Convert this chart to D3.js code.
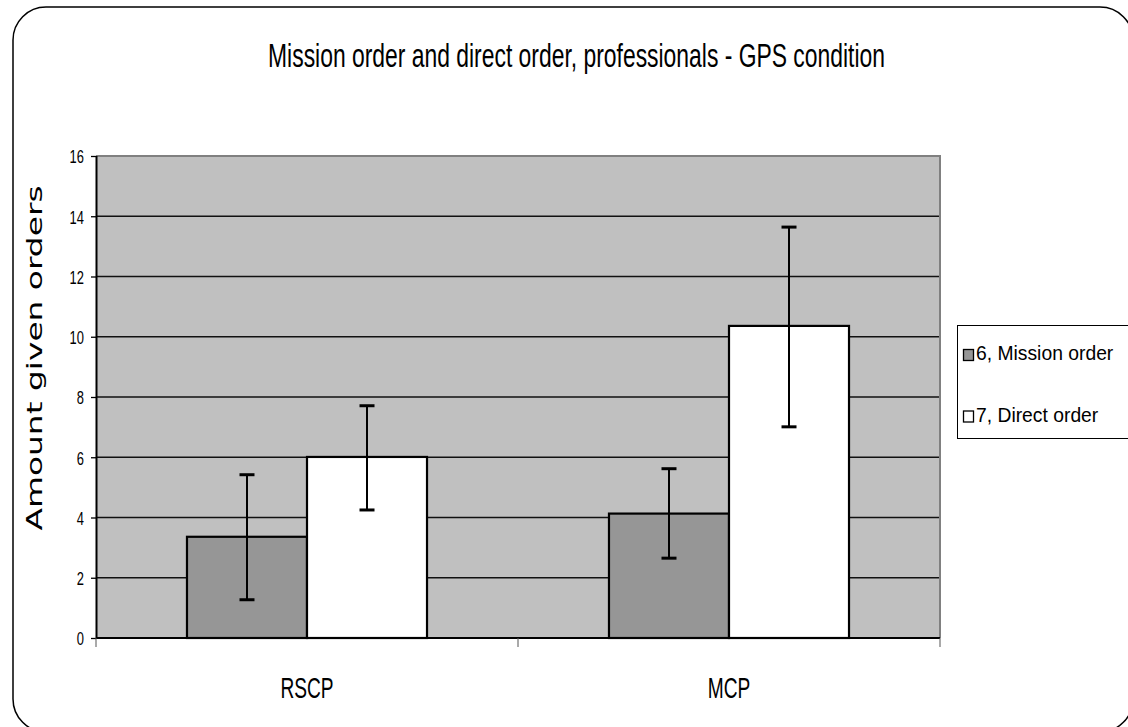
<!DOCTYPE html>
<html>
<head>
<meta charset="utf-8">
<script src="https://cdn.jsdelivr.net/npm/d3@7"></script>
<style>
  html, body { margin: 0; padding: 0; background: #fff; }
  svg { display: block; }
</style>
</head>
<body>
<svg id="chart" width="1128" height="727"></svg>
<script>
// ---- data ----
const categories = ["RSCP", "MCP"];
const seriesNames = ["6, Mission order", "7, Direct order"];
const missionValues = [3.36, 4.13];
const missionLow = [1.27, 2.65];
const missionHigh = [5.42, 5.62];
const directValues = [6.01, 10.36];
const directLow = [4.25, 7.01];
const directHigh = [7.71, 13.64];
const yTicks = [0, 2, 4, 6, 8, 10, 12, 14, 16];
const titleText = "Mission order and direct order, professionals - GPS condition";
const yLabel = "Amount given orders";

const seriesColors = ["#969696", "#ffffff"];

const svg = d3.select("#chart");
const font = "'Liberation Sans', Arial, sans-serif";

// frame
svg.append("rect")
  .attr("x", 13).attr("y", 7).attr("width", 1120).attr("height", 725)
  .attr("rx", 33).attr("ry", 33)
  .attr("fill", "#fff").attr("stroke", "#000").attr("stroke-width", 1.5);

const plot = { left: 96, right: 940, top: 156, bottom: 638 };

const y = d3.scaleLinear().domain([0, 16]).range([plot.bottom, plot.top]);
const x0 = d3.scaleBand().domain(categories).range([plot.left, plot.right]).padding(0);
const bw = x0.bandwidth();
const barW = bw * 0.2844;
const x1 = d3.scaleBand().domain(seriesNames).range([bw / 2 - barW, bw / 2 + barW]).padding(0);

// plot background
svg.append("rect")
  .attr("x", plot.left).attr("y", plot.top)
  .attr("width", plot.right - plot.left).attr("height", plot.bottom - plot.top)
  .attr("fill", "#c0c0c0");

// gridlines
svg.append("g").selectAll("line")
  .data(yTicks.filter(t => t > 0 && t < 16))
  .join("line")
  .attr("x1", plot.left).attr("x2", plot.right)
  .attr("y1", d => y(d)).attr("y2", d => y(d))
  .attr("stroke", "#111").attr("stroke-width", 1.3);

// plot border top & right (gray)
svg.append("path")
  .attr("d", `M${plot.left},${y(16)}H${plot.right}V${plot.bottom}`)
  .attr("fill", "none").attr("stroke", "#808080").attr("stroke-width", 2);

// data table
const table = categories.map((c, i) => ({
  cat: c,
  bars: [
    { s: seriesNames[0], v: missionValues[i], lo: missionLow[i], hi: missionHigh[i], color: seriesColors[0] },
    { s: seriesNames[1], v: directValues[i], lo: directLow[i], hi: directHigh[i], color: seriesColors[1] }
  ]
}));

const groups = svg.append("g").selectAll("g")
  .data(table).join("g")
  .attr("transform", d => `translate(${x0(d.cat)},0)`);

groups.selectAll("rect")
  .data(d => d.bars).join("rect")
  .attr("x", d => x1(d.s)).attr("width", x1.bandwidth())
  .attr("y", d => y(d.v)).attr("height", d => y(0) - y(d.v))
  .attr("fill", d => d.color)
  .attr("stroke", "#000").attr("stroke-width", 2.2);

// error bars
const eb = groups.selectAll("g.err")
  .data(d => d.bars).join("g").attr("class", "err");
eb.append("line")
  .attr("x1", d => x1(d.s) + x1.bandwidth() / 2)
  .attr("x2", d => x1(d.s) + x1.bandwidth() / 2)
  .attr("y1", d => y(d.lo)).attr("y2", d => y(d.hi))
  .attr("stroke", "#000").attr("stroke-width", 2);
eb.selectAll("line.cap")
  .data(d => [{ s: d.s, v: d.lo }, { s: d.s, v: d.hi }])
  .join("line").attr("class", "cap")
  .attr("x1", d => x1(d.s) + x1.bandwidth() / 2 - 7.5)
  .attr("x2", d => x1(d.s) + x1.bandwidth() / 2 + 7.5)
  .attr("y1", d => y(d.v)).attr("y2", d => y(d.v))
  .attr("stroke", "#000").attr("stroke-width", 3);

// y axis
const yAxis = svg.append("g")
  .attr("transform", `translate(${plot.left},0)`)
  .call(d3.axisLeft(y).tickValues(yTicks).tickSize(5).tickPadding(7).tickFormat(d3.format("d")));
yAxis.attr("font-size", null).attr("font-family", null);
yAxis.select(".domain").attr("stroke", "#000").attr("stroke-width", 2).attr("d", `M0.5,${plot.top}V${plot.bottom}`);
yAxis.selectAll(".tick line").attr("stroke", "#000").attr("stroke-width", 1.3);
yAxis.selectAll(".tick text")
  .style("font-family", font).style("font-size", "19px").attr("fill", "#000")
  .attr("dy", "0.36em")
  .each(function () {
    const n = this.getComputedTextLength();
    d3.select(this).attr("textLength", n * 0.68).attr("lengthAdjust", "spacingAndGlyphs");
  });

// x axis
const xAxisG = svg.append("g");
xAxisG.append("line")
  .attr("x1", plot.left).attr("x2", plot.right)
  .attr("y1", y(0)).attr("y2", y(0))
  .attr("stroke", "#000").attr("stroke-width", 2);
const catEdges = [plot.left].concat(categories.map(c => x0(c) + bw));
xAxisG.selectAll("line.tk").data(catEdges).join("line").attr("class", "tk")
  .attr("x1", d => d).attr("x2", d => d)
  .attr("y1", y(0)).attr("y2", y(0) + 9)
  .attr("stroke", "#555").attr("stroke-width", 1);
xAxisG.selectAll("text").data(categories).join("text")
  .attr("transform", d => `translate(${x0(d) + bw / 2},698) scale(0.66,1)`)
  .attr("text-anchor", "middle")
  .style("font-family", font).style("font-size", "29px").attr("fill", "#000")
  .text(d => d);

// title
svg.append("text")
  .attr("transform", "translate(576.5,67) scale(0.68,1)")
  .attr("text-anchor", "middle")
  .style("font-family", font).style("font-size", "34px").attr("fill", "#000")
  .text(titleText)
  .each(function () {
    const n = this.getComputedTextLength();
    const k = 617 / n;
    d3.select(this).attr("transform", `translate(576.5,67) scale(${k},1)`);
  });

// y label
svg.append("text")
  .attr("transform", `translate(42,358) rotate(-90)`)
  .attr("text-anchor", "middle")
  .style("font-family", "'DejaVu Sans', Verdana, sans-serif").style("font-size", "22px").attr("fill", "#000")
  .attr("textLength", 345).attr("lengthAdjust", "spacingAndGlyphs")
  .text(yLabel);

// legend
const lg = svg.append("g");
lg.append("rect")
  .attr("x", 957.5).attr("y", 325.5).attr("width", 180).attr("height", 113)
  .attr("fill", "#fff").attr("stroke", "#000").attr("stroke-width", 1);
const legendRowY = [360, 421.5];
const items = lg.selectAll("g.item").data(seriesNames).join("g").attr("class", "item")
  .attr("transform", (d, i) => `translate(0,${legendRowY[i]})`);
items.append("rect")
  .attr("x", 963.5).attr("y", -10.5).attr("width", 10).attr("height", 11)
  .attr("fill", (d, i) => seriesColors[i]).attr("stroke", "#000").attr("stroke-width", 1.3);
items.append("text")
  .attr("transform", "translate(976,0) scale(0.92,1)")
  .style("font-family", font).style("font-size", "21px").attr("fill", "#000")
  .text(d => d);
</script>
</body>
</html>
